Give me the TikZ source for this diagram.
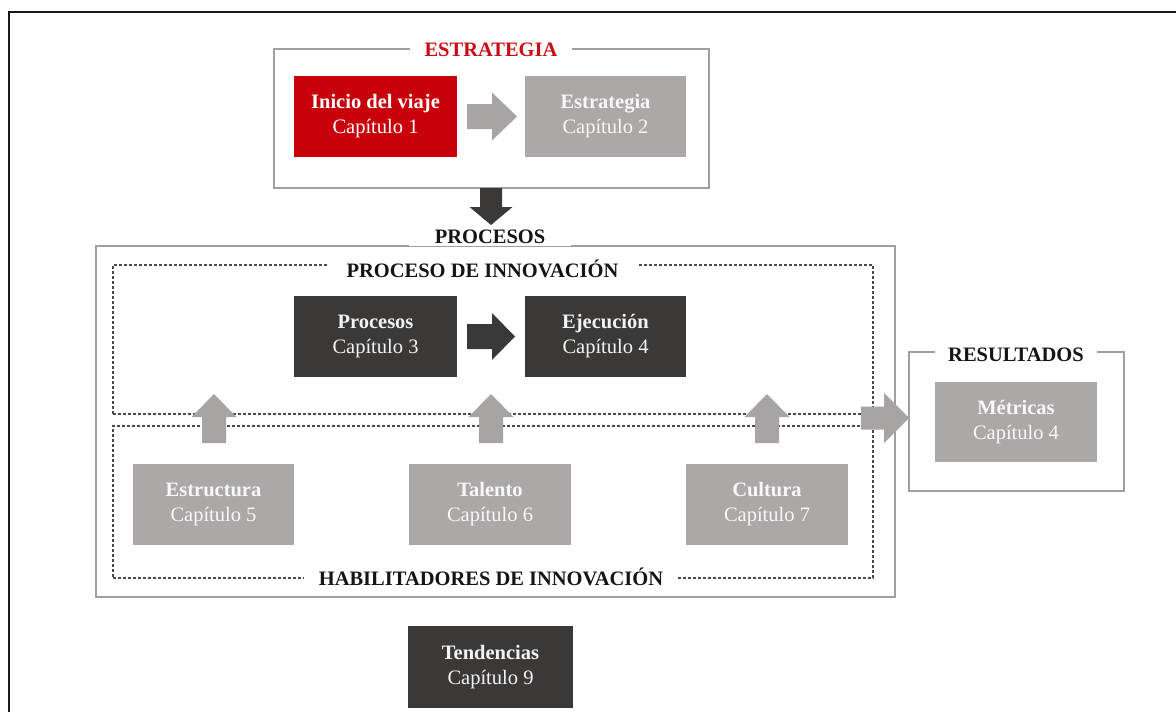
\documentclass[tikz,border=0pt]{standalone}
\usepackage{fontspec}
\setmainfont{Liberation Serif}
\usetikzlibrary{calc}

\definecolor{boxred}{HTML}{C8000A}
\definecolor{titlered}{HTML}{CC0A14}
\definecolor{boxgrey}{HTML}{ABA8A7}
\definecolor{arrowgrey}{HTML}{A7A4A3}
\definecolor{boxdark}{HTML}{3B3938}
\definecolor{framegrey}{HTML}{A0A0A0}
\definecolor{dashgrey}{HTML}{4A4A4A}
\definecolor{titleink}{HTML}{151515}

% horizontal block arrow: tail, tip, shaft half-height, head half-height, head length, style
\newcommand\hblock[6]{%
  \fill[#6] ($(#1)+(0,-#3)$) -- ($(#2)+(-#5,-#3)$) -- ($(#2)+(-#5,-#4)$) -- (#2)
    -- ($(#2)+(-#5,#4)$) -- ($(#2)+(-#5,#3)$) -- ($(#1)+(0,#3)$) -- cycle;}
% vertical block arrow: tail, tip, shaft half-width, head half-width, signed head offset, style
\newcommand\vblock[6]{%
  \fill[#6] ($(#1)+(-#3,0)$) -- ($(#2)+(-#3,#5)$) -- ($(#2)+(-#4,#5)$) -- (#2)
    -- ($(#2)+(#4,#5)$) -- ($(#2)+(#3,#5)$) -- ($(#1)+(#3,0)$) -- cycle;}

\tikzset{
  chbox/.style={minimum width=162pt, minimum height=81pt, inner sep=0pt, outer sep=0pt,
    align=center, font=\fontsize{20.5}{25}\selectfont},
  redbox/.style={chbox, fill=boxred, text=white},
  greybox/.style={chbox, fill=boxgrey, text=white!92!boxgrey},
  darkbox/.style={chbox, fill=boxdark, text=white!94!boxdark},
  frame/.style={draw=framegrey, line width=1.2pt, inner sep=0pt, outer sep=0pt},
  dframe/.style={draw=dashgrey, line width=1.1pt, dash pattern=on 3pt off 2pt,
    inner sep=0pt, outer sep=0pt},
  grouptitle/.style={fill=white, text=titleink, anchor=base, inner ysep=2pt, inner xsep=0pt,
    font=\bfseries\fontsize{20.5}{25}\selectfont},
  greyarrow/.style={fill=arrowgrey},
  darkarrow/.style={fill=boxdark},
}

\begin{document}
\begin{tikzpicture}[x=1pt, y=-1pt]
  \useasboundingbox (0,0) rectangle (1176,712);
  \fill[white] (0,0) rectangle (1176,712);

  % page frame
  \draw[black!90, line width=2pt] (9,712) -- (9,12) -- (1176,12);

  % group frames
  \node[frame, minimum width=435pt, minimum height=139pt] (fstrat) at (491.5,118.5) {};
  \node[frame, minimum width=799pt, minimum height=351pt] (fproc) at (495.5,421.5) {};
  \node[dframe, minimum width=760pt, minimum height=149pt] (finnov) at (493,339.5) {};
  \node[dframe, minimum width=760pt, minimum height=152pt] (fhabil) at (493,502) {};
  \node[frame, minimum width=215pt, minimum height=139pt] (fres) at (1016.5,421.5) {};

  % group titles
  \node[grouptitle, text=titlered, minimum width=162pt] (tstrat) at (491,56) {ESTRATEGIA};
  \node[grouptitle, minimum width=162pt] (tproc) at (490,243.5) {PROCESOS};
  \node[grouptitle, minimum width=309pt] (tinnov) at (482.5,277) {PROCESO DE INNOVACIÓN};
  \node[grouptitle, minimum width=374pt] (thabil) at (491,585) {HABILITADORES DE INNOVACIÓN};
  \node[grouptitle, minimum width=162pt] (tres) at (1016,361) {RESULTADOS};

  % chapter boxes
  \node[redbox, minimum width=163pt] (inicio) at (375.5,116.5) {\textbf{Inicio del viaje}\\Capítulo 1};
  \node[greybox, minimum width=161pt] (estrat) at (605.5,116.5) {\textbf{Estrategia}\\Capítulo 2};
  \node[darkbox, minimum width=163pt] (procesos) at (375.5,336.5) {\textbf{Procesos}\\Capítulo 3};
  \node[darkbox, minimum width=161pt] (ejec) at (605.5,336.5) {\textbf{Ejecución}\\Capítulo 4};
  \node[greybox, minimum width=161pt] (estruc) at (213.5,504.5) {\textbf{Estructura}\\Capítulo 5};
  \node[greybox] (talento) at (490,504.5) {\textbf{Talento}\\Capítulo 6};
  \node[greybox] (cultura) at (767,504.5) {\textbf{Cultura}\\Capítulo 7};
  \node[greybox, minimum height=80pt] (metricas) at (1016,422) {\textbf{Métricas}\\Capítulo 4};
  \node[darkbox, minimum width=165pt, minimum height=82pt] (tend) at (490.5,667) {\textbf{Tendencias}\\Capítulo 9};

  % arrow end points
  \coordinate (a1s) at ($(inicio.east)+(10,0)$);
  \coordinate (a1e) at ($(estrat.west)+(-8,0)$);
  \coordinate (a2s) at (491,188);
  \coordinate (a2e) at (491,225);
  \coordinate (a3s) at ($(procesos.east)+(10,0)$);
  \coordinate (a3e) at ($(ejec.west)+(-10,0)$);
  \coordinate (u1s) at ($(estruc.north)+(0.5,-21)$);
  \coordinate (u1e) at ($(estruc.north)+(0.5,-70)$);
  \coordinate (u2s) at ($(talento.north)+(1,-21)$);
  \coordinate (u2e) at ($(talento.north)+(1,-70)$);
  \coordinate (u3s) at ($(cultura.north)+(0,-21)$);
  \coordinate (u3e) at ($(cultura.north)+(0,-70)$);
  \coordinate (r1s) at (861,418);
  \coordinate (r1e) at (fres.west |- r1s);

  % block arrows
  \hblock{a1s}{a1e}{12.5}{24}{25}{greyarrow}
  \vblock{a2s}{a2e}{11}{21.5}{-18}{darkarrow}
  \hblock{a3s}{a3e}{12.5}{23.5}{23}{darkarrow}
  \vblock{u1s}{u1e}{12}{22.5}{23}{greyarrow}
  \vblock{u2s}{u2e}{12}{22.5}{23}{greyarrow}
  \vblock{u3s}{u3e}{12}{22.5}{23}{greyarrow}
  \hblock{r1s}{r1e}{11.5}{25}{25}{greyarrow}
\end{tikzpicture}
\end{document}
